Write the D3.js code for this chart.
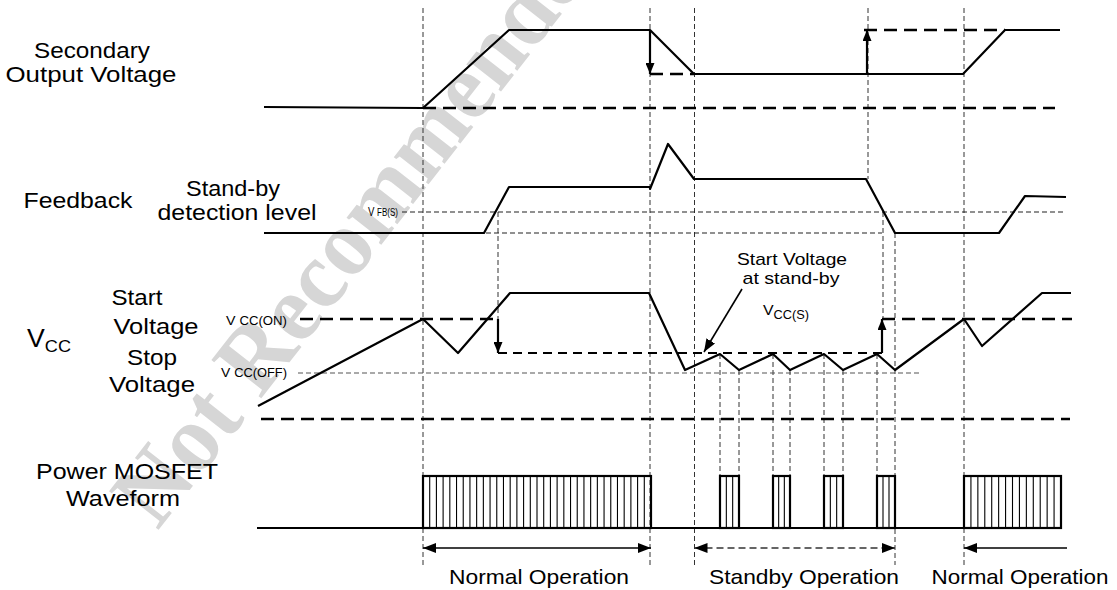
<!DOCTYPE html>
<html>
<head>
<meta charset="utf-8">
<script src="https://cdn.jsdelivr.net/npm/d3@7"></script>
<style>
  body { margin: 0; background: white; }
  svg { display: block; font-family: Arial, "Liberation Sans", sans-serif; }
</style>
</head>
<body>
<svg id="chart" width="1117" height="590"></svg>
<script>
// time t (arbitrary units), level per channel (arbitrary units)
const secondaryPts = [[7,1],[166,0],[252,78],[393,78],[437,34],[706,34],[748,78],[803,78]];
const secondaryRef = [166, 798];          // level 0, dashed
const secondaryDrop = [393, 437];         // level 34, dashed
const secondaryBack = [607, 748];         // level 78, dashed
const secondaryArrows = [[393, 78, 34], [610, 34, 78]];

const feedbackPts = [[7,0],[227,0],[252,46],[393,46],[393,44],[411,89],[437,54],[609,54],[638,0],[742,0],[768,37],[809,36]];
const vfbLevel = 21;
const vfbSpan = [145, 806];
const fbLowSpan = [229, 625];

const vccPts = [[1,13],[166,100],[201,66],[253,126],[392,126],[428,49],[463,65],[482,49],[516,65],[533,49],
                [567,65],[586,49],[620,65],[638,49],[707,100],[725,73],[785,126],[814,126]];
const vccOn = 100, vccStandby = 66, vccOff = 46;
const vccOnSpans = [[43, 240], [625, 815]];
const vccStandbySpan = [241, 625];
const vccOffSpan = [41, 662];
const vccGroundSpan = [4, 813];
const vccArrows = [[241, 100, 66], [625, 66, 100]];

// MOSFET bursts: [start, end, number of switching cycles]
const mosBursts = [[166, 394, 34], [463, 482, 3], [516, 533, 3], [567, 586, 3], [620, 638, 3], [707, 804, 14]];
const mosBaseSpan = [0, 804];

const fullGuides = [166, 393, 437.5, 707];
const phases = [
  {name: "Normal Operation", t0: 166, t1: 394, both: true, dashed: false, cx: 539, len: 180},
  {name: "Standby Operation", t0: 437.5, t1: 638, both: true, dashed: true, cx: 804, len: 190},
  {name: "Normal Operation", t0: 810, t1: 707, both: false, dashed: false, cx: 1020, len: 177}
];

const svg = d3.select("#chart");
const x = d3.scaleLinear().domain([0, 820]).range([257, 1077]);
const ySec = d3.scaleLinear().domain([0, 78]).range([108, 30]);
const yFb = d3.scaleLinear().domain([0, 89]).range([233, 144]);
const yVcc = d3.scaleLinear().domain([0, 126]).range([419, 293]);
const yMos = d3.scaleLinear().domain([0, 1]).range([528, 476]);
const Y_TOP = 8, Y_BOT = 565, Y_ARROW = 548;

const defs = svg.append("defs");
function addHead(id, len, w)
{
    defs.append("marker").attr("id", id)
        .attr("viewBox", `0 0 ${len} ${w}`).attr("refX", len).attr("refY", w / 2)
        .attr("markerWidth", len).attr("markerHeight", w)
        .attr("markerUnits", "userSpaceOnUse").attr("orient", "auto-start-reverse")
        .append("path").attr("d", `M0,0L${len},${w / 2}L0,${w}Z`).attr("fill", "black");
}
addHead("headBig", 11, 9);
addHead("headSmall", 13, 10);

// watermark
svg.append("text")
    .text("Not Recommended")
    .attr("transform", "translate(362,215) rotate(-52)")
    .attr("text-anchor", "middle").attr("dy", "0.35em")
    .attr("font-family", "'Liberation Serif', 'Times New Roman', serif")
    .attr("font-weight", "bold").attr("font-size", 96)
    .attr("textLength", 750).attr("lengthAdjust", "spacingAndGlyphs")
    .attr("fill", "#d6d6d6");

// guide lines
const guide = svg.append("g").attr("stroke", "#333").attr("stroke-width", 1).attr("stroke-dasharray", "5,3");
function vGuide(t, y0, y1) { guide.append("line").attr("x1", x(t)).attr("x2", x(t)).attr("y1", y0).attr("y2", y1); }
fullGuides.forEach(t => vGuide(t, Y_TOP, Y_BOT));
vGuide(611, Y_TOP, yFb(54));
vGuide(241, yFb(vfbLevel), yVcc(vccOn));
vGuide(626, yFb(vfbLevel), yVcc(vccOn));
vGuide(638, yFb(0), Y_BOT);
mosBursts.slice(1, 5).forEach(b => {
    vGuide(b[0], yVcc(65), yMos(1));
    if (b[1] !== 638) vGuide(b[1], yVcc(49), yMos(1));
});

function hLine(g, t0, t1, y) { return g.append("line").attr("x1", x(t0)).attr("x2", x(t1)).attr("y1", y).attr("y2", y); }

const thinDash = svg.append("g").attr("stroke", "#222").attr("stroke-width", 1.1).attr("stroke-dasharray", "5,3");
hLine(thinDash, vfbSpan[0], vfbSpan[1], yFb(vfbLevel));
hLine(thinDash, fbLowSpan[0], fbLowSpan[1], yFb(0));
hLine(thinDash, vccOffSpan[0], vccOffSpan[1], yVcc(vccOff)).attr("stroke", "#555");

const thickDash = svg.append("g").attr("stroke", "black").attr("stroke-width", 2.6).attr("stroke-dasharray", "13,7");
hLine(thickDash, secondaryRef[0], secondaryRef[1], ySec(0));
hLine(thickDash, secondaryDrop[0], secondaryDrop[1], ySec(34));
hLine(thickDash, secondaryBack[0], secondaryBack[1], ySec(78));
vccOnSpans.forEach(s => hLine(thickDash, s[0], s[1], yVcc(vccOn)));
hLine(thickDash, vccGroundSpan[0], vccGroundSpan[1], yVcc(0));
hLine(thickDash, vccStandbySpan[0], vccStandbySpan[1], yVcc(vccStandby)).attr("stroke-width", 2.2).attr("stroke-dasharray", "9,6");

// waveforms
const trace = svg.append("g").attr("fill", "none").attr("stroke", "black").attr("stroke-width", 2.2).attr("stroke-linejoin", "round");
trace.append("path").attr("d", d3.line().x(d => x(d[0])).y(d => ySec(d[1]))(secondaryPts));
trace.append("path").attr("d", d3.line().x(d => x(d[0])).y(d => yFb(d[1]))(feedbackPts));
trace.append("path").attr("d", d3.line().x(d => x(d[0])).y(d => yVcc(d[1]))(vccPts));

const arrows = svg.append("g").attr("stroke", "black").attr("stroke-width", 2.2);
secondaryArrows.forEach(a => arrows.append("line").attr("x1", x(a[0])).attr("x2", x(a[0]))
    .attr("y1", ySec(a[1])).attr("y2", ySec(a[2])).attr("marker-end", "url(#headBig)"));
vccArrows.forEach(a => arrows.append("line").attr("x1", x(a[0])).attr("x2", x(a[0]))
    .attr("y1", yVcc(a[1])).attr("y2", yVcc(a[2])).attr("marker-end", "url(#headBig)"));

// MOSFET
const mos = svg.append("g").attr("fill", "none").attr("stroke", "black");
hLine(mos, mosBaseSpan[0], mosBaseSpan[1], yMos(0)).attr("stroke-width", 2.2);
mosBursts.forEach(b => {
    const step = (b[1] - b[0]) / b[2];
    mos.append("g").attr("stroke-width", 1.1).selectAll("line").data(d3.range(1, b[2])).join("line")
        .attr("x1", i => x(b[0] + i * step)).attr("x2", i => x(b[0] + i * step))
        .attr("y1", yMos(1)).attr("y2", yMos(0));
    mos.append("rect").attr("x", x(b[0])).attr("y", yMos(1))
        .attr("width", x(b[1]) - x(b[0])).attr("height", yMos(0) - yMos(1)).attr("stroke-width", 2.2);
});

// phase arrows and names
phases.forEach(p => {
    const l = hLine(svg, p.t0, p.t1, Y_ARROW).attr("stroke", p.dashed ? "#333" : "black")
        .attr("stroke-width", 1.5).attr("marker-end", "url(#headSmall)");
    if (p.both) l.attr("marker-start", "url(#headSmall)");
    if (p.dashed) l.attr("stroke-dasharray", "7,4");
    svg.append("text").text(p.name).attr("x", p.cx).attr("y", 584)
        .attr("text-anchor", "middle").attr("font-size", 21)
        .attr("textLength", p.len).attr("lengthAdjust", "spacingAndGlyphs");
});

// labels
const labels = [
    ["Secondary", 92, 58, 116], ["Output Voltage", 91, 82, 171],
    ["Feedback", 78, 208, 109], ["Stand-by", 233, 196, 94], ["detection level", 237, 220, 159],
    ["Start", 137, 305, 51], ["Voltage", 156, 334, 85], ["Stop", 152, 365, 50], ["Voltage", 152, 392, 86],
    ["Power MOSFET", 127, 479, 182], ["Waveform", 123, 506, 114]
];
svg.append("g").selectAll("text").data(labels).join("text")
    .text(d => d[0]).attr("x", d => d[1]).attr("y", d => d[2])
    .attr("text-anchor", "middle").attr("font-size", 22)
    .attr("textLength", d => d[3]).attr("lengthAdjust", "spacingAndGlyphs");

svg.append("text").text("Start Voltage").attr("x", 792).attr("y", 265).attr("text-anchor", "middle")
    .attr("font-size", 17).attr("textLength", 110).attr("lengthAdjust", "spacingAndGlyphs");
svg.append("text").text("at stand-by").attr("x", 791).attr("y", 284).attr("text-anchor", "middle")
    .attr("font-size", 17).attr("textLength", 97).attr("lengthAdjust", "spacingAndGlyphs");
svg.append("line").attr("x1", 742).attr("y1", 289).attr("x2", x(447)).attr("y2", yVcc(vccStandby) - 1)
    .attr("stroke", "black").attr("stroke-width", 1.6).attr("marker-end", "url(#headSmall)");

function subLabel(main, sub, x0, y, len, s1, s2, shift)
{
    const t = svg.append("text").attr("x", x0).attr("y", y)
        .attr("textLength", len).attr("lengthAdjust", "spacingAndGlyphs");
    t.append("tspan").text(main).attr("font-size", s1);
    t.append("tspan").text(sub).attr("font-size", s2).attr("dy", shift);
}
subLabel("V ", "CC(ON)", 226, 325, 61, 13, 12, 0);
subLabel("V ", "CC(OFF)", 221, 377, 66, 13, 12, 0);
subLabel("V ", "FB(S)", 368, 216, 30, 12, 10, 0);
subLabel("V", "CC(S)", 763, 315, 46, 15, 12, 4);
subLabel("V", "CC", 27, 347, 44, 25, 17, 5);
</script>
</body>
</html>
